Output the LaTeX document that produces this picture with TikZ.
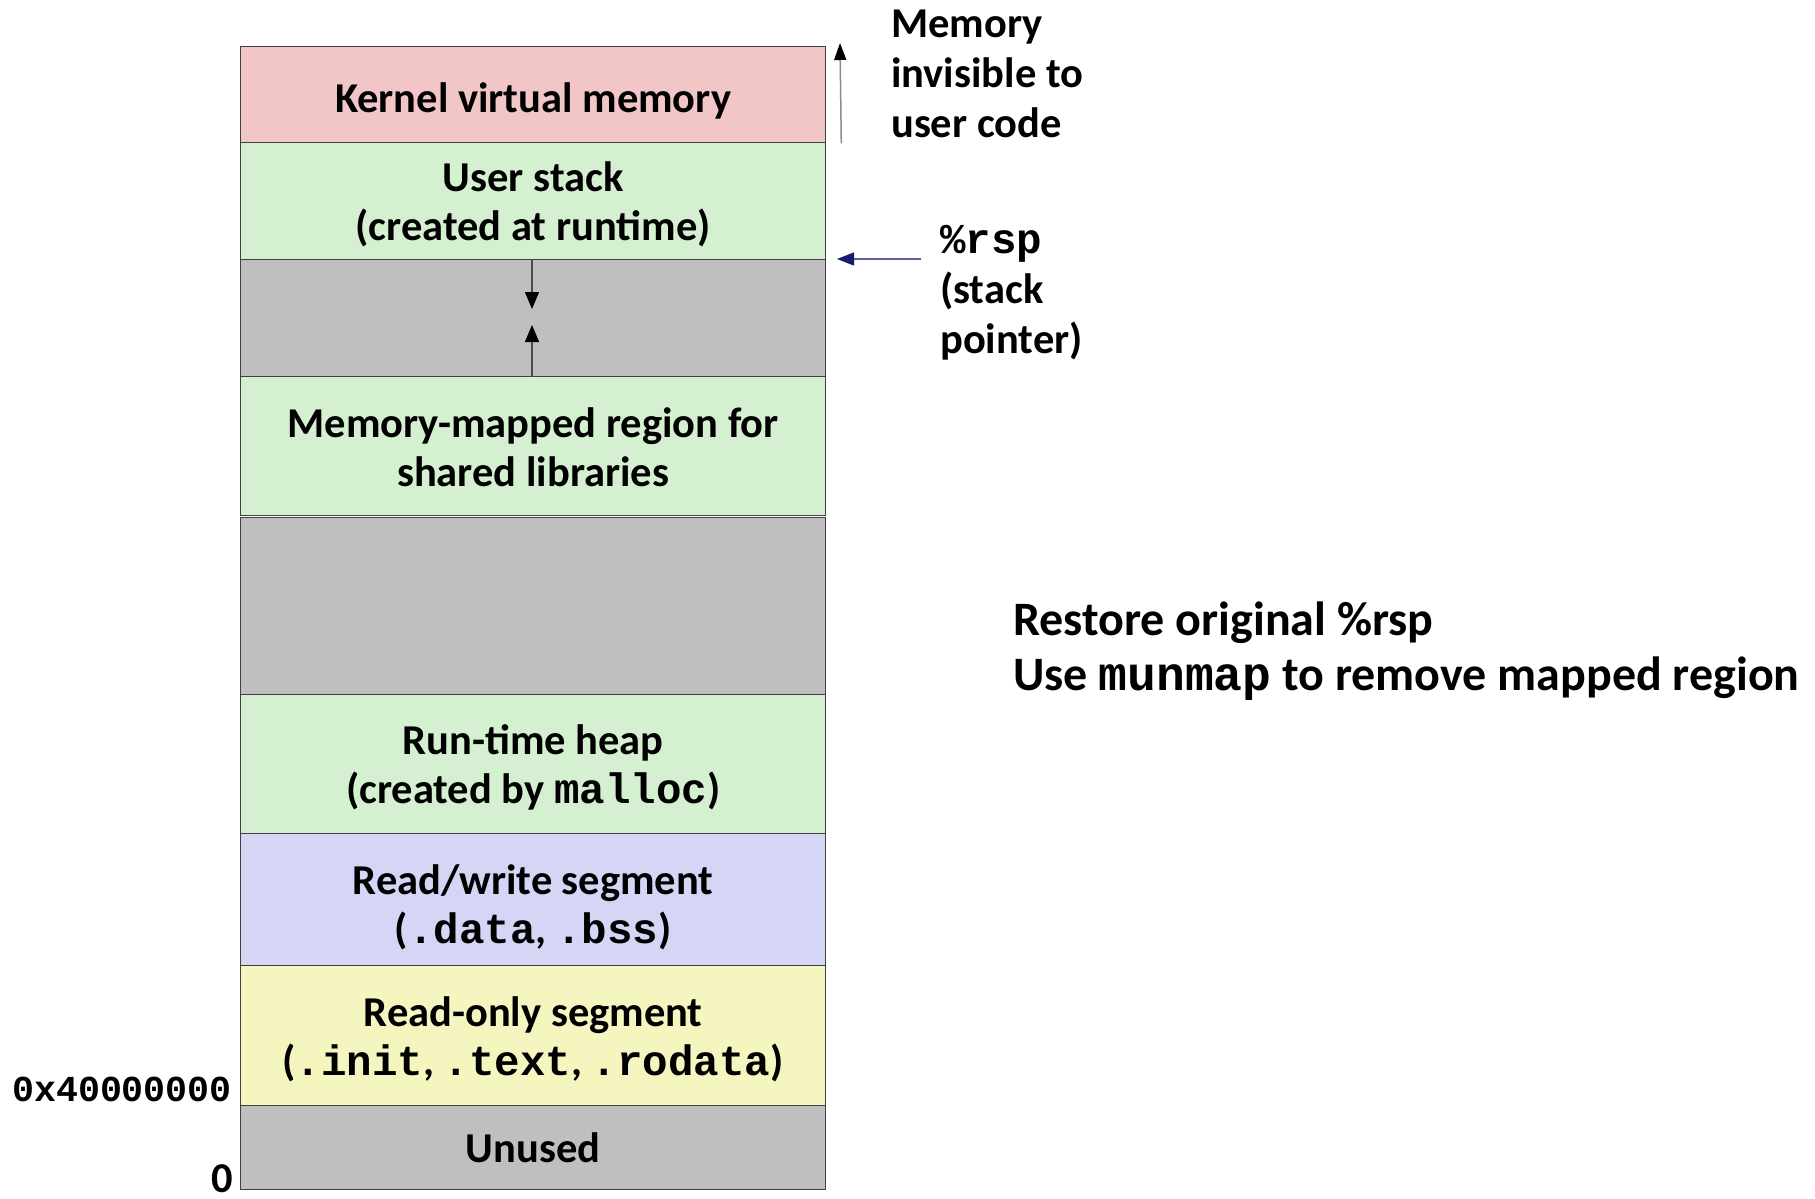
\documentclass[tikz,border=0pt]{standalone}
\usepackage{fontspec}
\setmainfont{Carlito}
\setmonofont{Liberation Mono}
\usetikzlibrary{arrows.meta}
\definecolor{kpink}{HTML}{F2C6C7}
\definecolor{sgreen}{HTML}{D5F0D0}
\definecolor{ggray}{HTML}{BFBFBF}
\definecolor{rwblue}{HTML}{D5D6F5}
\definecolor{royel}{HTML}{F5F5C0}
\definecolor{navy}{HTML}{1A1A6E}
\begin{document}
\begin{tikzpicture}[x=1pt,y=-1pt,
  seg/.style={draw=black!75,line width=1.3pt,minimum width=585pt,inner sep=0pt,anchor=north west},
  segtxt/.style={font=\bfseries\fontsize{42.5}{49}\selectfont,align=center,text depth=0pt,inner sep=0pt},
  lbl/.style={font=\bfseries\fontsize{42.5}{50}\selectfont,align=left,inner sep=0pt},
  tipA/.style={-{Triangle[length=17pt,width=14pt,black]}}
]
\useasboundingbox (0,0) rectangle (1815,1199);
\node[seg,fill=kpink,minimum height=96pt] (kern) at (240,46) {};
\node[seg,fill=sgreen,minimum height=117pt] (ustack) at (240,142) {};
\node[seg,fill=ggray,minimum height=117pt] (gap1) at (240,259) {};
\node[seg,fill=sgreen,minimum height=139pt] (mmap) at (240,376) {};
\node[seg,fill=ggray,minimum height=177pt] (gap2) at (240,517) {};
\node[seg,fill=sgreen,minimum height=139pt] (heap) at (240,694) {};
\node[seg,fill=rwblue,minimum height=132pt] (rw) at (240,833) {};
\node[seg,fill=royel,minimum height=140pt] (ro) at (240,965) {};
\node[seg,fill=ggray,minimum height=84pt] (unused) at (240,1105) {};

\node[segtxt] (kernt) at ([yshift=-2.5pt]kern.center) {Kernel virtual memory};
\node[segtxt] (ustackt) at (ustack.center) {User stack\\(created at runtime)};
\node[segtxt] (mmapt) at ([yshift=-0.5pt]mmap.center) {Memory-mapped region for\\shared libraries};
\node[segtxt] (heapt) at (heap.center) {Run-time heap\\(created by {\ttfamily malloc})};
\node[segtxt] (rwt) at ([yshift=-4pt]rw.center) {Read/write segment\\({\ttfamily .data}, {\ttfamily .bss})};
\node[segtxt] (rot) at ([yshift=-0.5pt]ro.center) {Read-only segment\\({\ttfamily .init}, {\ttfamily .text}, {\ttfamily .rodata})};
\node[segtxt] (unusedt) at (unused.center) {Unused};

% arrows in the gap
\coordinate (dtip) at (532,309);
\coordinate (utip) at (532,325);
\draw[black!70,line width=1.2pt,tipA] (gap1.north -| dtip) -- (dtip);
\draw[black!70,line width=1.2pt,tipA] (gap1.south -| utip) -- (utip);

% kernel arrow
\coordinate (ktop) at (840,43);
\draw[black!45,line width=1.5pt,-{Triangle[length=17pt,width=12pt,black]}] (kern.south east) ++(15,0) -- (ktop);

\node[lbl,anchor=west] (inv) at (891,74) {Memory\\invisible to\\user code};

% rsp
\node[lbl,anchor=north west] (rsp) at (940,225) {{\ttfamily\%rsp}\\(stack\\pointer)};
\coordinate (rspfrom) at (921,259);
\coordinate (rspto) at (837,259);
\draw[navy!70,line width=1.3pt,-{Triangle[length=17pt,width=13pt,navy]}] (rspfrom) -- (rspto);

\node[font=\bfseries\fontsize{48}{55.6}\selectfont,align=left,inner sep=0pt,anchor=west] (note) at (1013,651) {Restore original \%rsp\\Use {\ttfamily munmap} to remove mapped region};

\node[font=\ttfamily\bfseries\fontsize{36.6}{36.6}\selectfont,anchor=east,inner sep=0pt] (addr) at (232,1089) {0x40000000};
\node[font=\bfseries\fontsize{42.5}{42.5}\selectfont,anchor=base east,inner sep=0pt] (zero) at (233,1192) {0};
\end{tikzpicture}
\end{document}
